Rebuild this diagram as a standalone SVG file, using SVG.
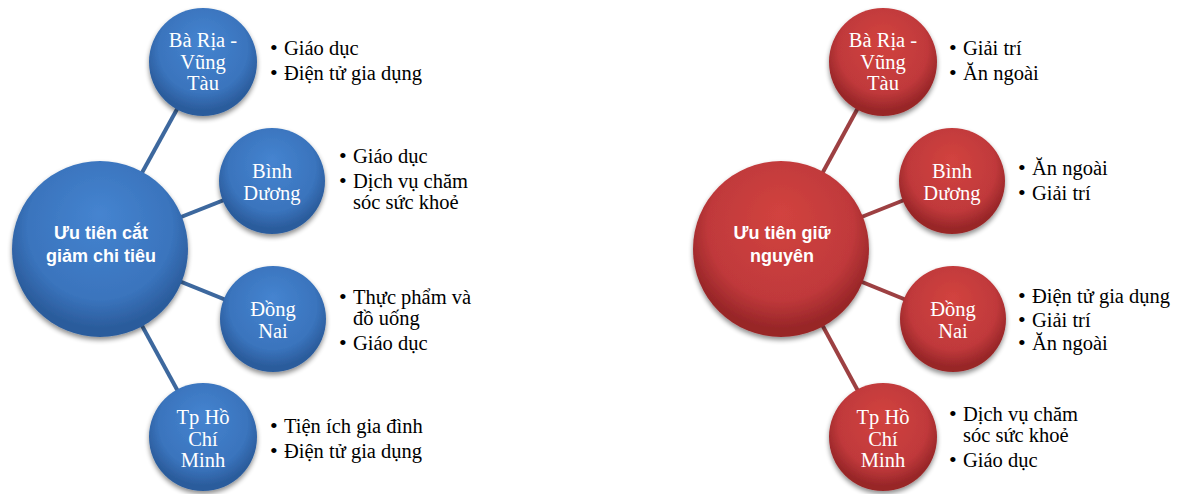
<svg xmlns="http://www.w3.org/2000/svg" width="1187" height="494" viewBox="0 0 1187 494">
  <defs>
    <radialGradient id="gBlue" cx="50%" cy="40%" r="55%" fx="50%" fy="30%">
      <stop offset="0" stop-color="#4584d0"/>
      <stop offset="0.75" stop-color="#3a74bd"/>
      <stop offset="1" stop-color="#2b5c9c"/>
    </radialGradient>
    <radialGradient id="gRed" cx="50%" cy="40%" r="55%" fx="50%" fy="30%">
      <stop offset="0" stop-color="#d2433f"/>
      <stop offset="0.75" stop-color="#c0393b"/>
      <stop offset="1" stop-color="#982628"/>
    </radialGradient>
    <filter id="shadow" x="-20%" y="-20%" width="140%" height="150%">
      <feGaussianBlur in="SourceAlpha" stdDeviation="2.5"/>
      <feOffset dx="0" dy="3" result="b"/>
      <feComponentTransfer><feFuncA type="linear" slope="0.45"/></feComponentTransfer>
      <feMerge><feMergeNode/><feMergeNode in="SourceGraphic"/></feMerge>
    </filter>
  </defs>
  <style>
    .blue { fill: url(#gBlue); filter: url(#shadow); }
    .red { fill: url(#gRed); filter: url(#shadow); }
    .linkB { stroke: #3d689e; stroke-width: 4; fill: none; }
    .linkR { stroke: #9d4042; stroke-width: 4; fill: none; }
    .hub { font-family: "Liberation Sans", Arial, sans-serif; font-weight: bold; font-size: 18px; fill: #ffffff; text-anchor: middle; }
    .lbl { font-family: "Liberation Serif", "Times New Roman", serif; font-size: 20.5px; fill: #ffffff; text-anchor: middle; }
    .item { font-family: "Liberation Serif", "Times New Roman", serif; font-size: 20.5px; fill: #000000; }
    .dot { font-family: "Liberation Serif", "Times New Roman", serif; font-size: 22px; fill: #000000; }
  </style>

  <!-- connectors: hub centre to each branch centre, drawn beneath the circles -->
  <g id="connectors">
    <line class="linkB" x1="100" y1="249" x2="203" y2="62"/>
    <line class="linkB" x1="100" y1="249" x2="272" y2="181"/>
    <line class="linkB" x1="100" y1="249" x2="273" y2="319"/>
    <line class="linkB" x1="100" y1="249" x2="203" y2="437"/>
    <line class="linkR" x1="781" y1="249" x2="883" y2="62"/>
    <line class="linkR" x1="781" y1="249" x2="952" y2="181"/>
    <line class="linkR" x1="781" y1="249" x2="953" y2="319"/>
    <line class="linkR" x1="781" y1="249" x2="883" y2="437"/>
  </g>

  <!-- left cluster: spending cuts -->
  <g id="hub-cut">
    <circle class="blue" cx="100" cy="249" r="88"/>
    <text class="hub" x="101" y="239">Ưu tiên cắt</text>
    <text class="hub" x="101" y="262">giảm chi tiêu</text>
  </g>
  <g id="cut-brvt">
    <circle class="blue" cx="203" cy="62" r="54"/>
    <text class="lbl" x="203" y="47">Bà Rịa -</text>
    <text class="lbl" x="203" y="69">Vũng</text>
    <text class="lbl" x="203" y="90">Tàu</text>
    <text class="dot" x="270" y="55">•</text>
    <text class="item" x="284" y="55">Giáo dục</text>
    <text class="dot" x="270" y="80">•</text>
    <text class="item" x="284" y="80">Điện tử gia dụng</text>
  </g>
  <g id="cut-bd">
    <circle class="blue" cx="272" cy="181" r="53"/>
    <text class="lbl" x="272" y="178">Bình</text>
    <text class="lbl" x="272" y="200">Dương</text>
    <text class="dot" x="339" y="163">•</text>
    <text class="item" x="353" y="163">Giáo dục</text>
    <text class="dot" x="339" y="188">•</text>
    <text class="item" x="353" y="188">Dịch vụ chăm</text>
    <text class="item" x="353" y="209">sóc sức khoẻ</text>
  </g>
  <g id="cut-dn">
    <circle class="blue" cx="273" cy="319" r="53"/>
    <text class="lbl" x="273" y="316">Đồng</text>
    <text class="lbl" x="273" y="338">Nai</text>
    <text class="dot" x="339" y="304">•</text>
    <text class="item" x="353" y="304">Thực phẩm và</text>
    <text class="item" x="353" y="325">đồ uống</text>
    <text class="dot" x="339" y="350">•</text>
    <text class="item" x="353" y="350">Giáo dục</text>
  </g>
  <g id="cut-hcm">
    <circle class="blue" cx="203" cy="437" r="54"/>
    <text class="lbl" x="203" y="424">Tp Hồ</text>
    <text class="lbl" x="203" y="446">Chí</text>
    <text class="lbl" x="203" y="467">Minh</text>
    <text class="dot" x="270" y="433">•</text>
    <text class="item" x="284" y="433">Tiện ích gia đình</text>
    <text class="dot" x="270" y="458">•</text>
    <text class="item" x="284" y="458">Điện tử gia dụng</text>
  </g>

  <!-- right cluster: spending kept -->
  <g id="hub-keep">
    <circle class="red" cx="781" cy="249" r="88"/>
    <text class="hub" x="782" y="239">Ưu tiên giữ</text>
    <text class="hub" x="782" y="262">nguyên</text>
  </g>
  <g id="keep-brvt">
    <circle class="red" cx="883" cy="62" r="54"/>
    <text class="lbl" x="883" y="47">Bà Rịa -</text>
    <text class="lbl" x="883" y="69">Vũng</text>
    <text class="lbl" x="883" y="90">Tàu</text>
    <text class="dot" x="949" y="55">•</text>
    <text class="item" x="963" y="55">Giải trí</text>
    <text class="dot" x="949" y="80">•</text>
    <text class="item" x="963" y="80">Ăn ngoài</text>
  </g>
  <g id="keep-bd">
    <circle class="red" cx="952" cy="181" r="53"/>
    <text class="lbl" x="952" y="178">Bình</text>
    <text class="lbl" x="952" y="200">Dương</text>
    <text class="dot" x="1018" y="175">•</text>
    <text class="item" x="1032" y="175">Ăn ngoài</text>
    <text class="dot" x="1018" y="200">•</text>
    <text class="item" x="1032" y="200">Giải trí</text>
  </g>
  <g id="keep-dn">
    <circle class="red" cx="953" cy="319" r="53"/>
    <text class="lbl" x="953" y="316">Đồng</text>
    <text class="lbl" x="953" y="338">Nai</text>
    <text class="dot" x="1018" y="303">•</text>
    <text class="item" x="1032" y="303">Điện tử gia dụng</text>
    <text class="dot" x="1018" y="327">•</text>
    <text class="item" x="1032" y="327">Giải trí</text>
    <text class="dot" x="1018" y="350">•</text>
    <text class="item" x="1032" y="350">Ăn ngoài</text>
  </g>
  <g id="keep-hcm">
    <circle class="red" cx="883" cy="437" r="54"/>
    <text class="lbl" x="883" y="424">Tp Hồ</text>
    <text class="lbl" x="883" y="446">Chí</text>
    <text class="lbl" x="883" y="467">Minh</text>
    <text class="dot" x="949" y="421">•</text>
    <text class="item" x="963" y="421">Dịch vụ chăm</text>
    <text class="item" x="963" y="442">sóc sức khoẻ</text>
    <text class="dot" x="949" y="467">•</text>
    <text class="item" x="963" y="467">Giáo dục</text>
  </g>
</svg>
